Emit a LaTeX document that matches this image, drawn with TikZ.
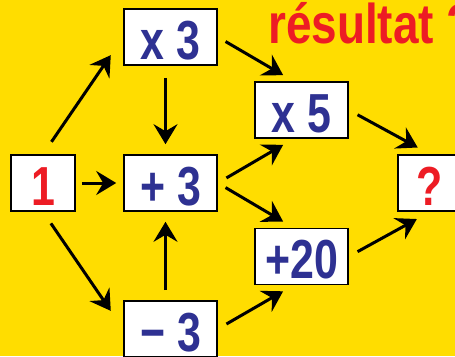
\documentclass[tikz,border=0pt]{standalone}
\usepackage{fontspec}
\newfontfamily\cf{Liberation Sans}[UprightFont=*-Bold, FakeStretch=0.78]
\newfontfamily\tf{Liberation Sans}[UprightFont=*-Bold, FakeStretch=0.82]
\usetikzlibrary{arrows.meta,calc}
\definecolor{bgyellow}{RGB}{255,221,0}
\definecolor{numblue}{RGB}{46,49,146}
\definecolor{numred}{RGB}{237,28,36}
\tikzset{
  opbox/.style={draw=black, line width=1.6pt, fill=white, minimum width=93pt, minimum height=56pt, inner sep=0pt,
    text height=44pt, text depth=0pt,
    font=\cf\fontsize{55}{55}\selectfont, text=numblue},
  endbox/.style={opbox, minimum width=64pt, text=numred},
  arr/.style={line width=3pt, -{Stealth[length=20pt,width=24pt,inset=7pt]}},
}
\begin{document}
\begin{tikzpicture}[x=1pt,y=-1pt]
\fill[bgyellow] (0,0) rectangle (455,356);
\useasboundingbox (0,0) rectangle (455,356);
\node[opbox] (x3) at (170.5,37) {x 3};
\node[opbox] (x5) at (301.5,110) {x 5};
\node[endbox] (n1) at (43,183) {1};
\node[opbox] (p3) at (170.5,183) {+ 3};
\node[endbox] (q) at (430,183) {?};
\node[opbox] (p20) at (301.5,256.5) {+20};
\node[opbox] (m3) at (170.5,329) {− 3};
\node[anchor=base west, inner sep=0pt, text=numred, font=\tf\fontsize{56}{56}\selectfont] (title) at (268,43) {résultat ?};
\draw[arr, shorten <=15pt, shorten >=22pt] (n1.north) -- (x3.west);
\draw[arr, shorten <=14pt, shorten >=22pt] (n1.south) -- (m3.west);
\draw[arr, shorten <=6pt, shorten >=7pt] (n1.east) -- (p3.west);
\draw[arr, shorten <=12pt, shorten >=10pt] ([xshift=-5pt]x3.south) -- ([xshift=-5pt]p3.north);
\draw[arr, shorten <=10pt, shorten >=10pt] ([xshift=-5pt]m3.north) -- ([xshift=-5pt]p3.south);
\draw[arr, shorten <=9pt, shorten >=12pt] (x3.east) -- ([xshift=-8pt]x5.north);
\draw[arr, shorten <=10pt, shorten >=12pt] (p3.east) -- ([xshift=-8pt]x5.south);
\draw[arr, shorten <=9pt, shorten >=12pt] (p3.east) -- ([xshift=-8pt]p20.north);
\draw[arr, shorten <=10pt, shorten >=12pt] (m3.east) -- ([xshift=-8pt]p20.south);
\draw[arr, shorten <=10pt, shorten >=14pt] (x5.east) -- (q.north);
\draw[arr, shorten <=10pt, shorten >=15pt] (p20.east) -- (q.south);
\end{tikzpicture}
\end{document}
